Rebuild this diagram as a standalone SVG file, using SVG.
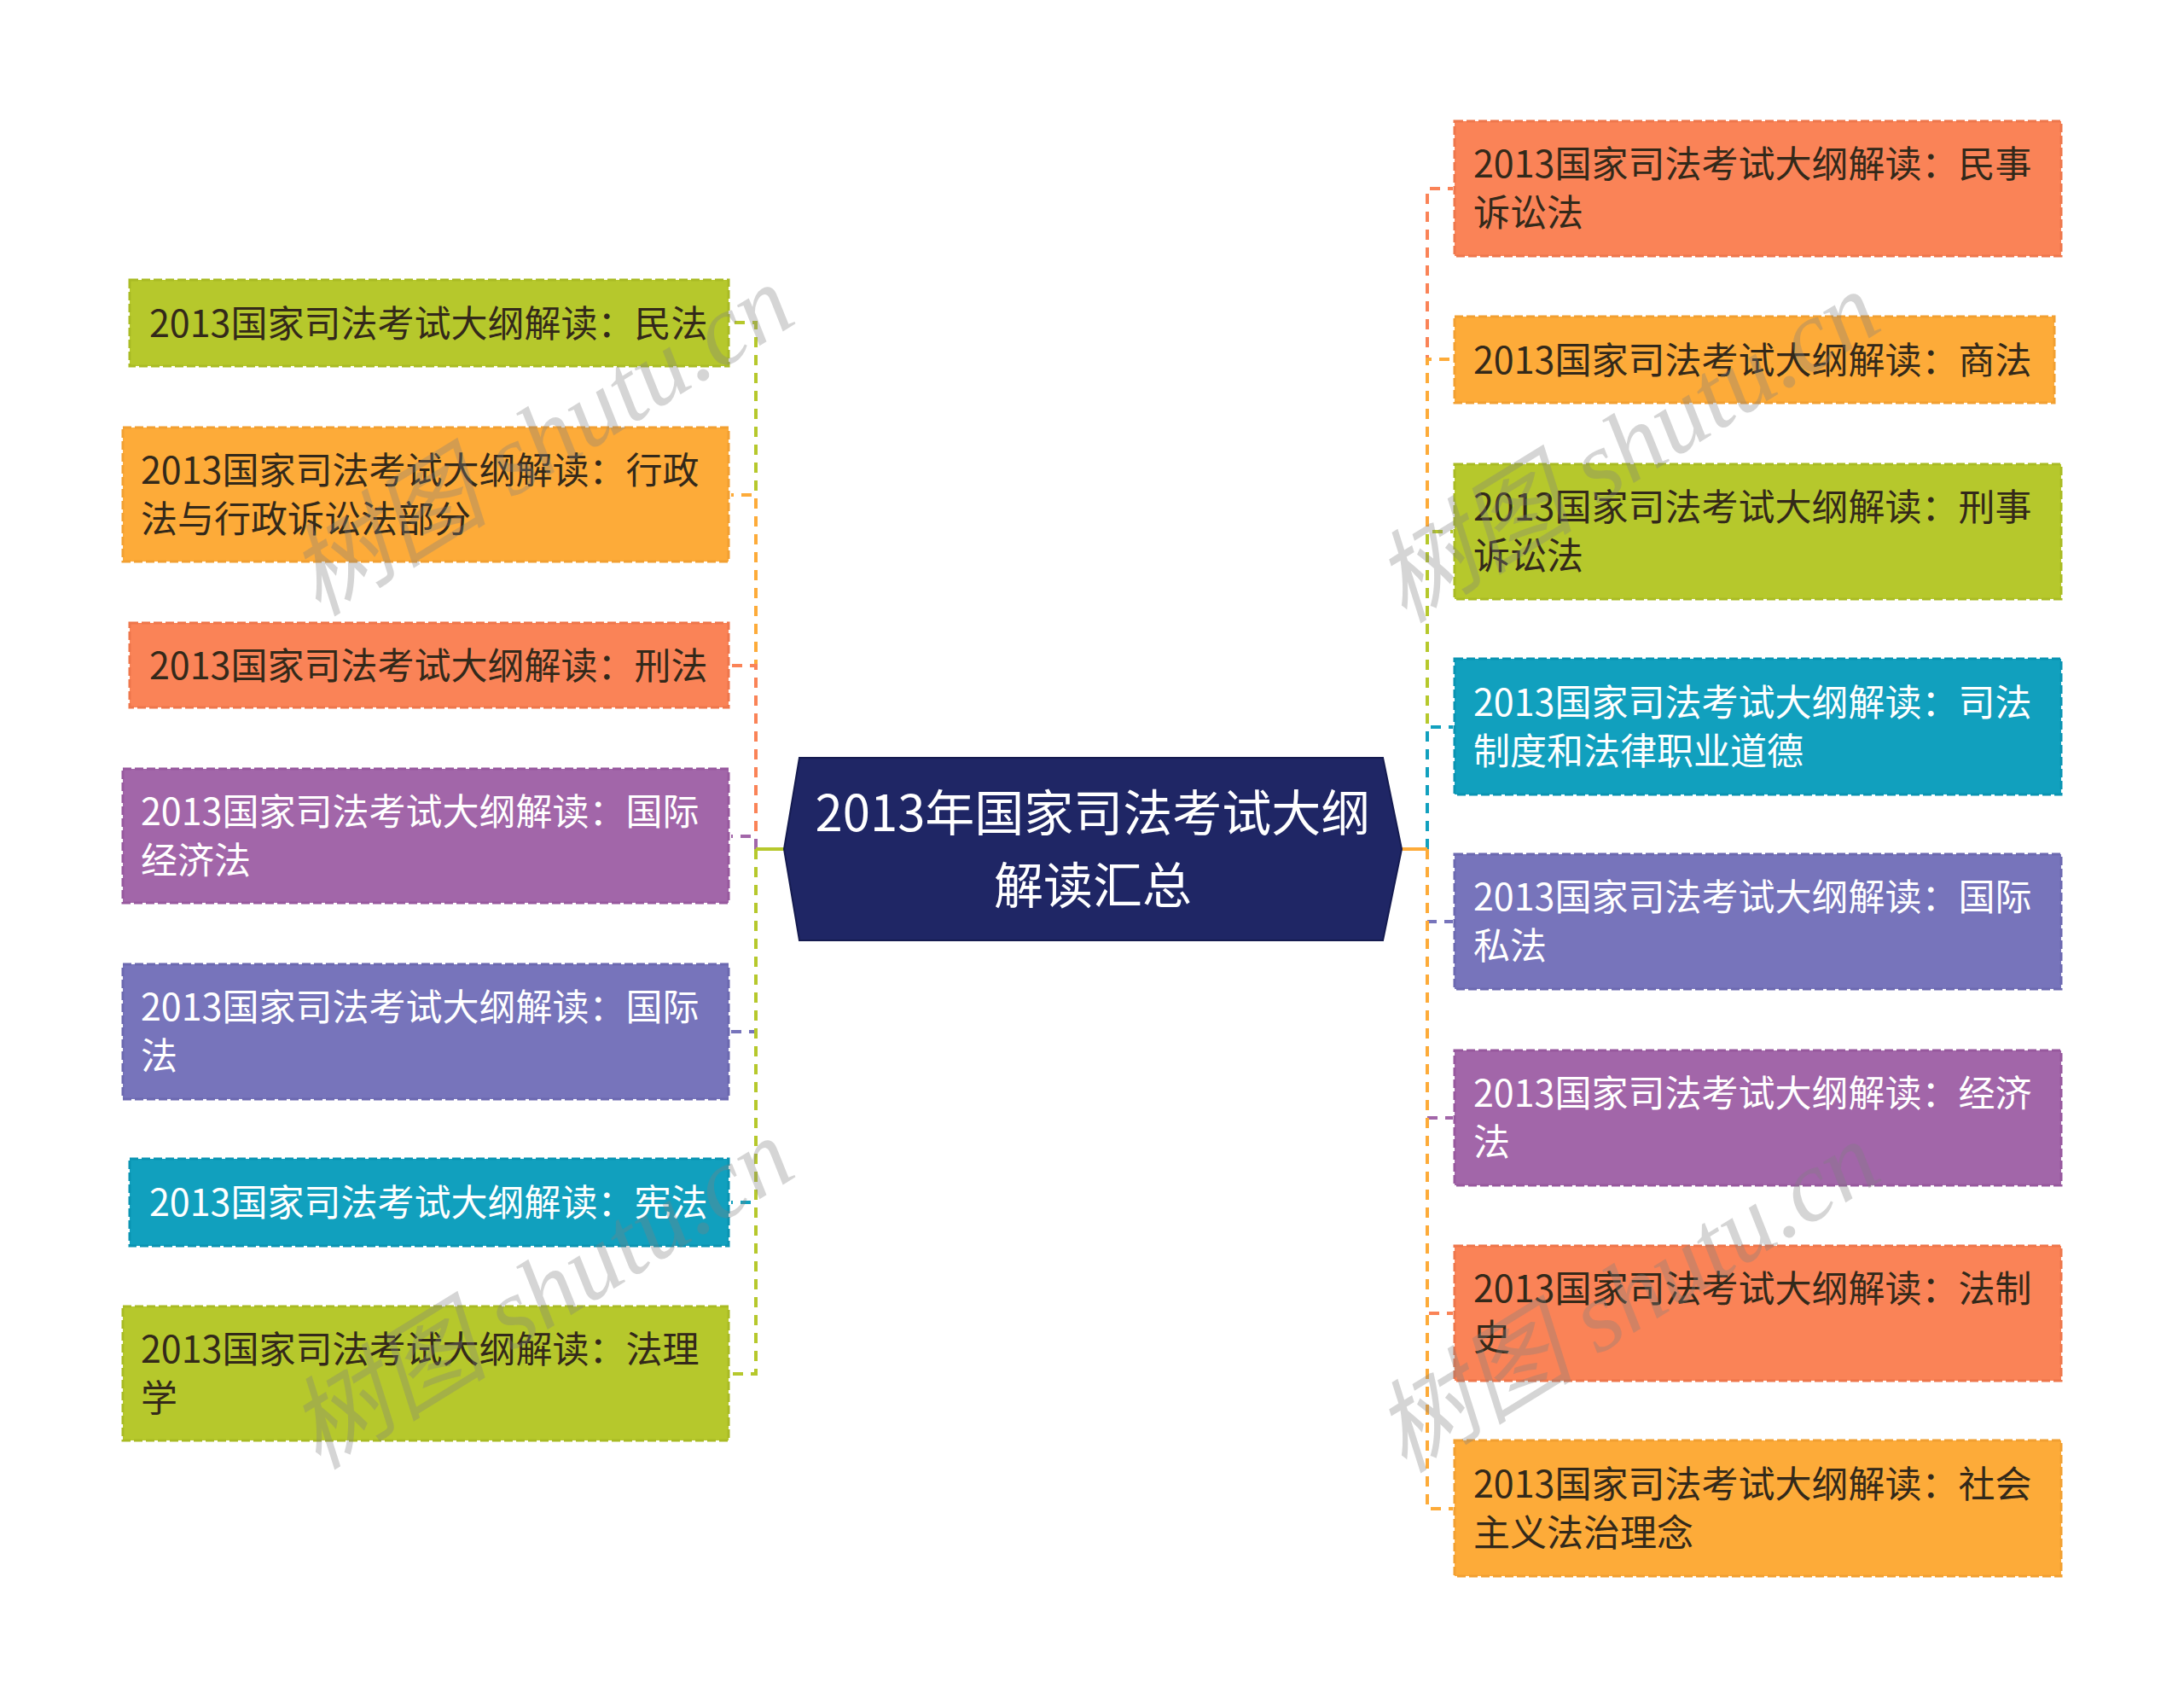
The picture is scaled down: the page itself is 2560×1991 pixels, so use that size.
<svg xmlns="http://www.w3.org/2000/svg" width="2560" height="1991" viewBox="0 0 2560 1991">
<style>
.t{font-family:"Noto Sans CJK SC","Noto Sans",sans-serif;font-size:43px;fill:#33291a}
.w{fill:#ffffff}
.box{stroke-width:3;stroke-dasharray:10 4}
.c{fill:none;stroke-width:4;stroke-dasharray:12 9}
.g{fill:#B6C82C;stroke:#A9BB24}
.o{fill:#FDAB39;stroke:#F2A032}
.r{fill:#FA8357;stroke:#EE774C}
.p{fill:#A266A9;stroke:#97599E}
.l{fill:#7774BB;stroke:#6C69B0}
.b{fill:#11A0BE;stroke:#0A94B2}
.wm{font-family:"Liberation Serif","Noto Sans CJK SC",serif;font-style:italic;font-size:118px;fill:#808080;fill-opacity:0.33}
</style>
<rect width="2560" height="1991" fill="#ffffff"/>
<g id="connectors">
<path class="c" stroke="#B6C82C" d="M886 995 V378 H857"/>
<path class="c" stroke="#FDAB39" d="M886 995 V580 H857"/>
<path class="c" stroke="#FA8357" d="M886 995 V780 H857"/>
<path class="c" stroke="#A266A9" d="M886 995 V980 H857"/>
<path class="c" stroke="#7774BB" d="M886 995 V1209 H857"/>
<path class="c" stroke="#11A0BE" d="M886 995 V1409 H857"/>
<path class="c" stroke="#B6C82C" d="M886 995 V1610 H857"/>
<path fill="none" stroke="#B6C82C" stroke-width="4" d="M919 995 H886"/>
<path class="c" stroke="#FA8357" d="M1673 995 V221 H1703"/>
<path class="c" stroke="#FDAB39" d="M1673 995 V421 H1703"/>
<path class="c" stroke="#B6C82C" d="M1673 995 V623 H1703"/>
<path class="c" stroke="#11A0BE" d="M1673 995 V852 H1703"/>
<path class="c" stroke="#7774BB" d="M1673 995 V1080 H1703"/>
<path class="c" stroke="#A266A9" d="M1673 995 V1310 H1703"/>
<path class="c" stroke="#FA8357" d="M1673 995 V1539 H1703"/>
<path class="c" stroke="#FDAB39" d="M1673 995 V1768 H1703"/>
<path fill="none" stroke="#FDAB39" stroke-width="4" d="M1643 995 H1673"/>
</g>
<g id="root">
<polygon points="937,888 1621,888 1643,995 1621,1102 937,1102 919,995" fill="#1F2665" stroke="#151B50" stroke-width="2"/>
<text class="t w" style="font-size:58px" text-anchor="middle"><tspan x="1281" y="974">2013年国家司法考试大纲</tspan><tspan x="1281" y="1059">解读汇总</tspan></text>
</g>
<g id="L1"><rect class="box g" x="152" y="328" width="702" height="101"/><text class="t" x="175" y="395">2013国家司法考试大纲解读：民法</text></g>
<g id="L2"><rect class="box o" x="144" y="501" width="710" height="157"/><text class="t"><tspan x="165" y="567">2013国家司法考试大纲解读：行政</tspan><tspan x="165" y="624">法与行政诉讼法部分</tspan></text></g>
<g id="L3"><rect class="box r" x="152" y="730" width="702" height="99"/><text class="t" x="175" y="796">2013国家司法考试大纲解读：刑法</text></g>
<g id="L4"><rect class="box p" x="144" y="901" width="710" height="157"/><text class="t w"><tspan x="165" y="967">2013国家司法考试大纲解读：国际</tspan><tspan x="165" y="1024">经济法</tspan></text></g>
<g id="L5"><rect class="box l" x="144" y="1130" width="710" height="158"/><text class="t w"><tspan x="165" y="1196">2013国家司法考试大纲解读：国际</tspan><tspan x="165" y="1253">法</tspan></text></g>
<g id="L6"><rect class="box b" x="152" y="1358" width="702" height="102"/><text class="t w" x="175" y="1425">2013国家司法考试大纲解读：宪法</text></g>
<g id="L7"><rect class="box g" x="144" y="1531" width="710" height="157"/><text class="t"><tspan x="165" y="1597">2013国家司法考试大纲解读：法理</tspan><tspan x="165" y="1654">学</tspan></text></g>
<g id="R1"><rect class="box r" x="1705" y="142" width="711" height="158"/><text class="t"><tspan x="1727" y="208">2013国家司法考试大纲解读：民事</tspan><tspan x="1727" y="265">诉讼法</tspan></text></g>
<g id="R2"><rect class="box o" x="1705" y="371" width="703" height="101"/><text class="t" x="1727" y="438">2013国家司法考试大纲解读：商法</text></g>
<g id="R3"><rect class="box g" x="1705" y="544" width="711" height="158"/><text class="t"><tspan x="1727" y="610">2013国家司法考试大纲解读：刑事</tspan><tspan x="1727" y="667">诉讼法</tspan></text></g>
<g id="R4"><rect class="box b" x="1705" y="772" width="711" height="159"/><text class="t w"><tspan x="1727" y="839">2013国家司法考试大纲解读：司法</tspan><tspan x="1727" y="896">制度和法律职业道德</tspan></text></g>
<g id="R5"><rect class="box l" x="1705" y="1001" width="711" height="158"/><text class="t w"><tspan x="1727" y="1067">2013国家司法考试大纲解读：国际</tspan><tspan x="1727" y="1124">私法</tspan></text></g>
<g id="R6"><rect class="box p" x="1705" y="1231" width="711" height="158"/><text class="t w"><tspan x="1727" y="1297">2013国家司法考试大纲解读：经济</tspan><tspan x="1727" y="1354">法</tspan></text></g>
<g id="R7"><rect class="box r" x="1705" y="1460" width="711" height="158"/><text class="t"><tspan x="1727" y="1526">2013国家司法考试大纲解读：法制</tspan><tspan x="1727" y="1583">史</tspan></text></g>
<g id="R8"><rect class="box o" x="1705" y="1688" width="711" height="159"/><text class="t"><tspan x="1727" y="1755">2013国家司法考试大纲解读：社会</tspan><tspan x="1727" y="1812">主义法治理念</tspan></text></g>
<g id="watermark">
<text class="wm" text-anchor="middle" transform="translate(655,550) rotate(-31.6)">树图 shutu.cn</text>
<text class="wm" text-anchor="middle" transform="translate(655,1550) rotate(-31.6)">树图 shutu.cn</text>
<text class="wm" text-anchor="middle" transform="translate(1928,558) rotate(-31.6)">树图 shutu.cn</text>
<text class="wm" text-anchor="middle" transform="translate(1928,1554) rotate(-31.6)">树图 shutu.cn</text>
</g>
</svg>
